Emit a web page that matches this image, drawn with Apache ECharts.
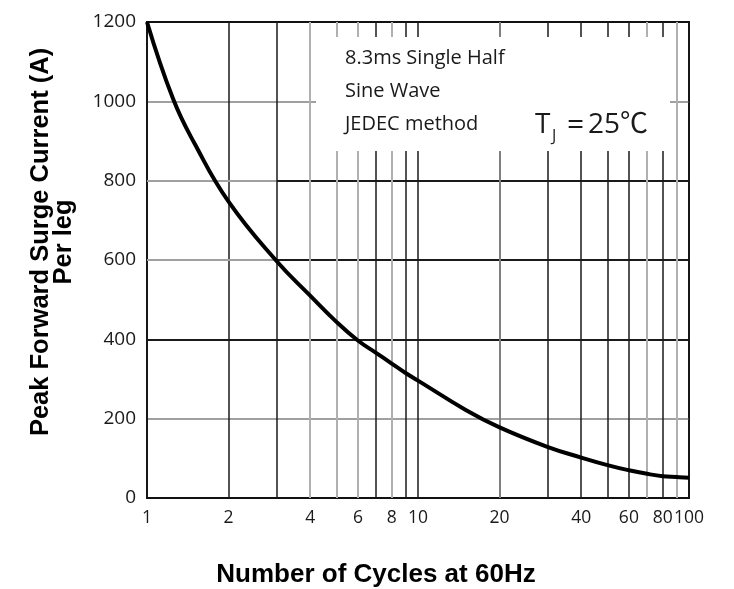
<!DOCTYPE html>
<html>
<head>
<meta charset="utf-8">
<script src="https://cdn.jsdelivr.net/npm/echarts@6/dist/echarts.min.js"></script>
<style>
html, body { margin: 0; padding: 0; background: #fff; }
#chart { width: 734px; height: 589px; }
</style>
</head>
<body>
<div id="chart"></div>
<script>
// surge current vs number of cycles
var cycles = [1, 1.25, 1.5, 2, 3, 4, 5, 6, 7, 8, 9, 10, 15, 20, 30, 40, 50, 60, 70, 80, 90, 100];
var surgeCurrent = [1200, 1005, 893, 747, 598, 510, 444, 397, 366, 339, 315, 296, 222, 178, 129, 102, 83, 70, 61, 55, 53, 51];

var xTickLabels = [1, 2, 4, 6, 8, 10, 20, 40, 60, 80, 100];
var xGridLines = [1, 2, 3, 4, 5, 6, 7, 8, 9, 10, 20, 30, 40, 50, 60, 70, 80, 90, 100];
var yTicks = [0, 200, 400, 600, 800, 1000, 1200];
var noteLines = ['8.3ms Single Half', 'Sine Wave', 'JEDEC method'];

// which grid lines are printed lighter in the original
var lightLines = [4, 5, 6, 8, 70, 90];
var midLines = [20];

var myChart = echarts.init(document.getElementById('chart'));

var gridMarks = xGridLines.map(function (v) {
    var c = '#1a1a1a', w = 1.5;
    if (lightLines.indexOf(v) > -1) { c = '#b0b0b0'; w = 2; }
    else if (midLines.indexOf(v) > -1) { c = '#808080'; w = 2; }
    return { xAxis: v, lineStyle: { color: c, width: w, type: 'solid' } };
});
// left part of the 600 / 800 lines is grey
gridMarks.push([{ coord: [1, 800] }, { coord: [3, 800], lineStyle: { color: '#a0a0a0', width: 2, type: 'solid' } }]);
gridMarks.push([{ coord: [1, 600] }, { coord: [3, 600], lineStyle: { color: '#a0a0a0', width: 2, type: 'solid' } }]);

var curve = [];
for (var i = 0; i < cycles.length; i++) {
    curve.push([cycles[i], surgeCurrent[i]]);
}

var option = {
    animation: false,
    grid: {
        left: 147, right: 45, top: 22, bottom: 91,
        show: true, borderColor: '#111', borderWidth: 2,
        outerBoundsMode: 'none'
    },
    xAxis: {
        type: 'log',
        logBase: 10,
        min: 1,
        max: 100,
        name: 'Number of Cycles at 60Hz',
        nameLocation: 'middle',
        nameGap: 64,
        nameTextStyle: {
            fontFamily: 'Liberation Sans', fontWeight: 'bold', fontSize: 26,
            color: '#000', padding: [0, 84, 0, 0]
        },
        axisLine: { show: true, lineStyle: { color: '#111', width: 2 } },
        axisTick: { show: false },
        minorTick: { show: false },
        splitLine: { show: false },
        minorSplitLine: { show: false },
        axisLabel: {
            customValues: xTickLabels,
            hideOverlap: false,
            margin: 11,
            fontFamily: 'Open Sans', fontSize: 17.5, color: '#1a1a1a',
            formatter: function (v) { return String(Math.round(v)); }
        }
    },
    yAxis: {
        type: 'value',
        min: yTicks[0],
        max: yTicks[yTicks.length - 1],
        interval: 200,
        name: 'Peak Forward Surge Current (A)\nPer leg',
        nameLocation: 'middle',
        nameGap: 72,
        nameTextStyle: {
            fontFamily: 'Liberation Sans', fontWeight: 'bold', fontSize: 25.5,
            lineHeight: 23, color: '#000', padding: [0, 0, 0, 36]
        },
        axisLine: { show: true, lineStyle: { color: '#111', width: 2 } },
        axisTick: { show: false },
        axisLabel: {
            margin: 11, fontFamily: 'Open Sans', fontSize: 19, color: '#1a1a1a',
            formatter: function (v) { return String(v); }
        },
        splitLine: {
            show: true,
            lineStyle: {
                color: ['#111', '#a0a0a0', '#1a1a1a', '#1a1a1a', '#1a1a1a', '#a0a0a0', '#111'],
                width: 2
            }
        }
    },
    series: [
        {
            // grid lines at every cycle count
            type: 'line',
            data: [],
            z: 1,
            silent: true,
            markLine: {
                silent: true,
                animation: false,
                symbol: ['none', 'none'],
                label: { show: false },
                lineStyle: { type: 'solid' },
                emphasis: { disabled: true },
                data: gridMarks
            }
        },
        {
            type: 'line',
            data: curve,
            smooth: 0.45,
            showSymbol: false,
            silent: true,
            z: 5,
            lineStyle: { color: '#000', width: 4 }
        }
    ],
    graphic: [
        { type: 'rect', z: 10, shape: { x: 316, y: 37, width: 354, height: 114 }, style: { fill: '#fff' } },
        { type: 'text', z: 11, x: 345, y: 58, style: { text: noteLines[0], font: '20px "Open Sans"', fill: '#1a1a1a', verticalAlign: 'middle' } },
        { type: 'text', z: 11, x: 345, y: 91, style: { text: noteLines[1], font: '20px "Open Sans"', fill: '#1a1a1a', verticalAlign: 'middle' } },
        { type: 'text', z: 11, x: 345, y: 124, style: { text: noteLines[2], font: '20px "Open Sans"', fill: '#1a1a1a', verticalAlign: 'middle' } },
        { type: 'text', z: 11, x: 535, y: 125, style: { text: 'T', font: '28px "Open Sans"', fill: '#1a1a1a', verticalAlign: 'middle' } },
        { type: 'text', z: 11, x: 552, y: 136, style: { text: 'J', font: '16px "Open Sans"', fill: '#1a1a1a', verticalAlign: 'middle' } },
        { type: 'text', z: 11, x: 567, y: 125, style: { text: '=', font: '30px "Open Sans"', fill: '#1a1a1a', verticalAlign: 'middle' } },
        { type: 'text', z: 11, x: 588, y: 125, style: { text: '25\u2103', font: '28px "Open Sans", "Noto Sans CJK SC"', fill: '#1a1a1a', verticalAlign: 'middle' } }
    ]
};

myChart.setOption(option);
window.addEventListener('resize', function () {
    myChart.resize();
});
</script>
</body>
</html>
